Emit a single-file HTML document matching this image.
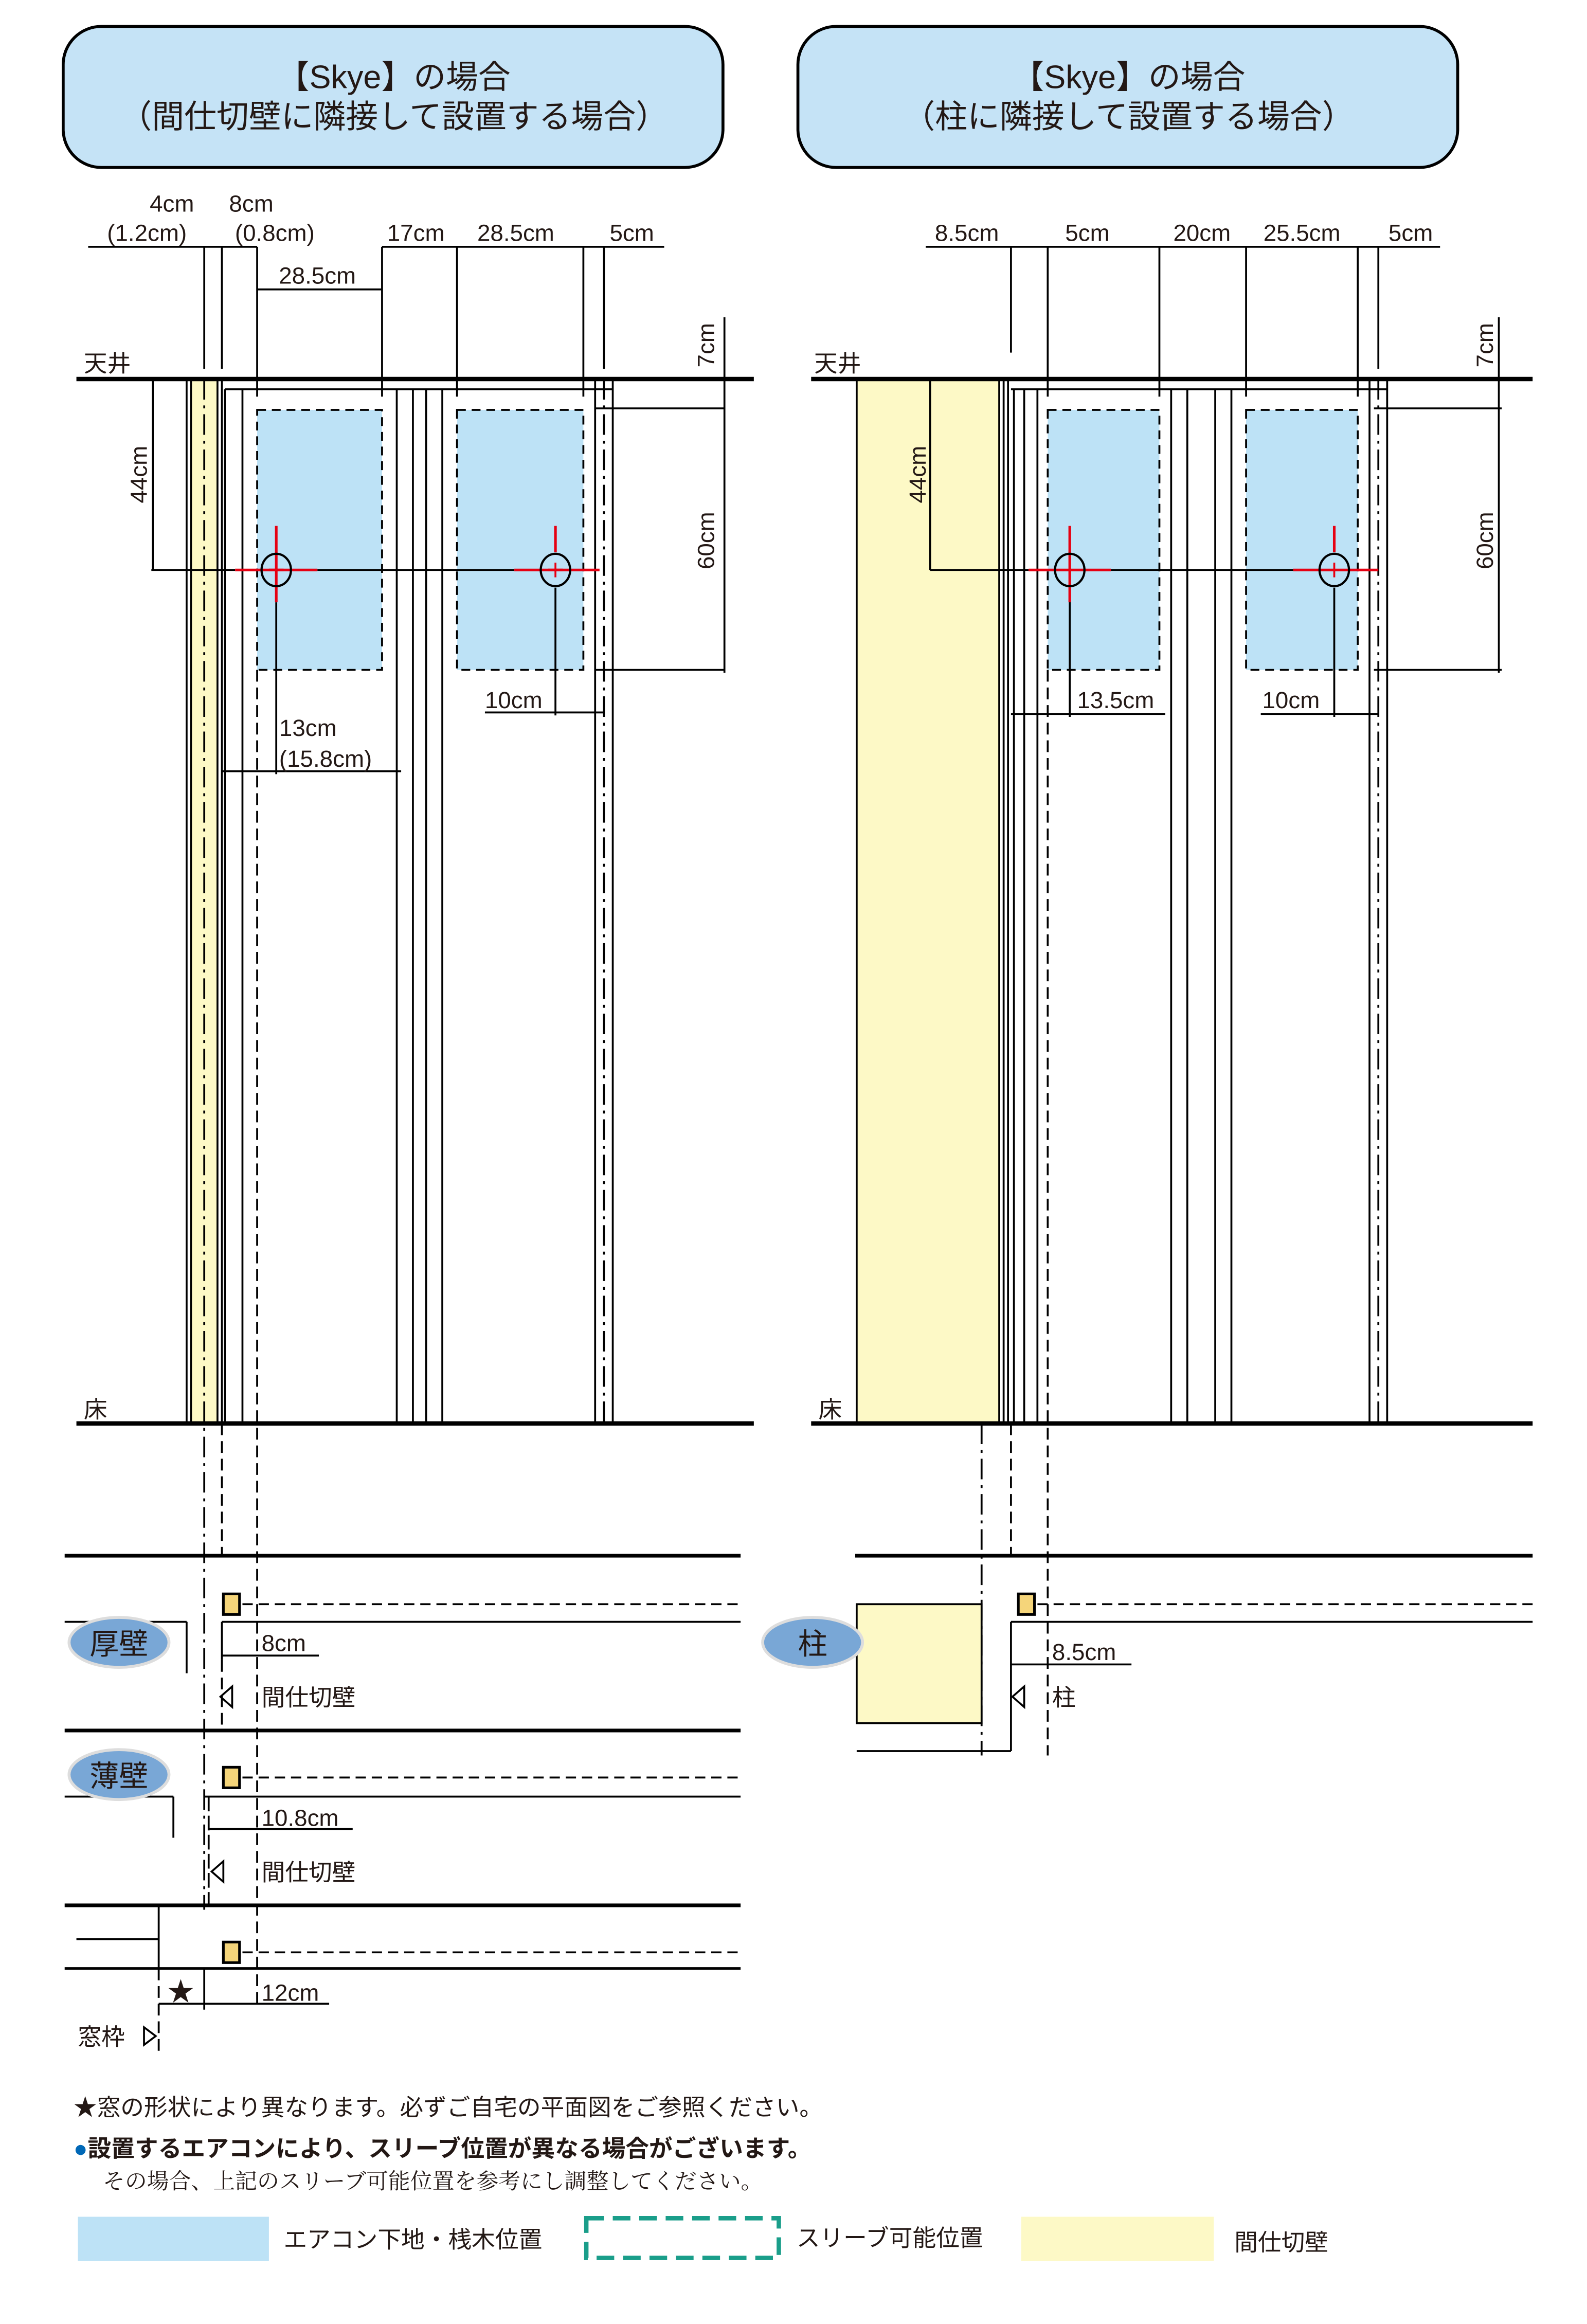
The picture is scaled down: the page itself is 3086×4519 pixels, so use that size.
<!DOCTYPE html>
<html><head><meta charset="utf-8"><style>
html,body{margin:0;padding:0;background:#fff}
svg{display:block}
text{font-family:"Liberation Sans","Noto Sans CJK JP",sans-serif;fill:#231815}
</style></head><body>
<svg width="3086" height="4519" viewBox="0 0 1080 1582" preserveAspectRatio="none" xmlns="http://www.w3.org/2000/svg">
<defs>
<marker id="d" viewBox="0 0 4 4" refX="2" refY="2" markerWidth="4" markerHeight="4" markerUnits="userSpaceOnUse"><circle cx="2" cy="2" r="2" fill="#000"/></marker>
</defs>
<!-- headers -->
<rect x="43" y="18" width="449" height="96" rx="26" fill="#c5e3f6" stroke="#000" stroke-width="2"/>
<text x="268" y="60" font-size="22" text-anchor="middle">【Skye】の場合</text>
<text x="268" y="87" font-size="22" text-anchor="middle">（間仕切壁に隣接して設置する場合）</text>
<rect x="543" y="18" width="449" height="96" rx="26" fill="#c5e3f6" stroke="#000" stroke-width="2"/>
<text x="768" y="60" font-size="22" text-anchor="middle">【Skye】の場合</text>
<text x="768" y="87" font-size="22" text-anchor="middle">（柱に隣接して設置する場合）</text>

<g stroke="#000" fill="none" stroke-width="1.3">
<!-- ===== LEFT PANEL ===== -->
<rect x="130" y="258" width="18" height="711" fill="#fdf9c6" stroke="none"/>
<rect x="175" y="279" width="85" height="177" fill="#bde2f6" stroke-dasharray="6,4"/>
<rect x="311" y="279" width="86" height="177" fill="#bde2f6" stroke-dasharray="6,4"/>
<line x1="60" y1="168" x2="175" y2="168"/><line x1="260" y1="168" x2="452" y2="168"/>
<line x1="175" y1="197" x2="260" y2="197"/>
<line x1="139" y1="168" x2="139" y2="251"/><line x1="151" y1="168" x2="151" y2="251"/>
<line x1="175" y1="168" x2="175" y2="270"/><line x1="260" y1="168" x2="260" y2="270"/>
<line x1="311" y1="168" x2="311" y2="270"/><line x1="397" y1="168" x2="397" y2="270"/>
<line x1="411" y1="168" x2="411" y2="251"/>
<line x1="127" y1="258" x2="127" y2="969"/><line x1="130" y1="258" x2="130" y2="969"/>
<line x1="148" y1="258" x2="148" y2="969"/><line x1="151" y1="258" x2="151" y2="969"/>
<line x1="153" y1="265" x2="153" y2="969"/><line x1="165" y1="265" x2="165" y2="969"/>
<line x1="153" y1="265" x2="417" y2="265"/>
<line x1="270" y1="265" x2="270" y2="969"/><line x1="281" y1="265" x2="281" y2="969"/>
<line x1="290" y1="265" x2="290" y2="969"/><line x1="301" y1="265" x2="301" y2="969"/>
<line x1="405" y1="258" x2="405" y2="969"/><line x1="417" y1="258" x2="417" y2="969"/>
<line x1="139" y1="258" x2="139" y2="1300" stroke-dasharray="14,4,2,4"/>
<line x1="411" y1="258" x2="411" y2="969" stroke-dasharray="14,4,2,4"/>
<line x1="175" y1="456" x2="175" y2="1368" stroke-dasharray="8,4"/>
<line x1="151" y1="969" x2="151" y2="1059" stroke-dasharray="8,4"/>
<!-- dims -->
<line x1="104" y1="258" x2="104" y2="388"/>
<line x1="103" y1="388" x2="160" y2="388"/><line x1="216" y1="388" x2="350" y2="388"/>
<line x1="493" y1="216" x2="493" y2="458"/>
<line x1="405" y1="278" x2="493" y2="278"/><line x1="405" y1="456" x2="493" y2="456"/>
<line x1="188" y1="410" x2="188" y2="527"/><line x1="151" y1="525" x2="273" y2="525"/>
<line x1="378" y1="400" x2="378" y2="487"/><line x1="330" y1="485" x2="411" y2="485"/>
<g stroke="#e60012" stroke-width="1.8">
<line x1="160" y1="388" x2="216" y2="388"/><line x1="188" y1="358" x2="188" y2="410"/>
<line x1="350" y1="388" x2="408" y2="388"/><line x1="378" y1="358" x2="378" y2="376"/>
<line x1="183" y1="388" x2="193" y2="388"/><line x1="373" y1="388" x2="383" y2="388"/>
</g>
<ellipse cx="188" cy="388" rx="10" ry="11" stroke-width="1.5"/>
<ellipse cx="378" cy="388" rx="10" ry="11" stroke-width="1.5"/>
<line x1="183" y1="388" x2="193" y2="388" stroke="#e60012"/><line x1="188" y1="383" x2="188" y2="393" stroke="#e60012"/>
<line x1="373" y1="388" x2="383" y2="388" stroke="#e60012"/><line x1="378" y1="383" x2="378" y2="393" stroke="#e60012"/>
<line x1="52" y1="258" x2="513" y2="258" stroke-width="3"/>
<line x1="52" y1="969" x2="513" y2="969" stroke-width="3"/>

<!-- left sections -->
<line x1="44" y1="1059" x2="504" y2="1059" stroke-width="2.5"/>
<line x1="44" y1="1178" x2="504" y2="1178" stroke-width="2.5"/>
<line x1="44" y1="1297" x2="504" y2="1297" stroke-width="2.5"/>
<line x1="44" y1="1340" x2="504" y2="1340" stroke-width="1.8"/>
<rect x="152" y="1085" width="11" height="14" fill="#f5d57a" stroke-width="1.8"/>
<line x1="165" y1="1092" x2="504" y2="1092" stroke-dasharray="7,4"/>
<line x1="151" y1="1104" x2="504" y2="1104"/>
<line x1="151" y1="1104" x2="151" y2="1130"/>
<line x1="151" y1="1130" x2="151" y2="1178" stroke-dasharray="8,4"/>
<line x1="44" y1="1104" x2="127" y2="1104"/><line x1="127" y1="1104" x2="127" y2="1139"/>
<line x1="151" y1="1127" x2="217" y2="1127"/>
<polygon points="158,1148 150,1155 158,1162"/>
<rect x="152" y="1203" width="11" height="14" fill="#f5d57a" stroke-width="1.8"/>
<line x1="165" y1="1210" x2="504" y2="1210" stroke-dasharray="7,4"/>
<line x1="139" y1="1223" x2="504" y2="1223"/>
<line x1="142" y1="1223" x2="142" y2="1297" stroke-dasharray="10,3"/>
<line x1="44" y1="1223" x2="118" y2="1223"/><line x1="118" y1="1223" x2="118" y2="1251"/>
<line x1="142" y1="1245" x2="240" y2="1245"/>
<polygon points="152,1267 144,1274 152,1281"/>
<line x1="108" y1="1297" x2="108" y2="1340"/><line x1="52" y1="1320" x2="108" y2="1320"/>
<line x1="108" y1="1340" x2="108" y2="1400" stroke-dasharray="8,4"/>
<rect x="152" y="1322" width="11" height="14" fill="#f5d57a" stroke-width="1.8"/>
<line x1="165" y1="1329" x2="504" y2="1329" stroke-dasharray="7,4"/>
<line x1="108" y1="1364" x2="224" y2="1364"/>
<line x1="139" y1="1340" x2="139" y2="1368"/>
<polygon points="98,1380 106,1386 98,1392"/>

<!-- ===== RIGHT PANEL ===== -->
<rect x="583" y="258" width="97" height="711" fill="#fdf9c6"/>
<rect x="713" y="279" width="76" height="177" fill="#bde2f6" stroke-dasharray="6,4"/>
<rect x="848" y="279" width="76" height="177" fill="#bde2f6" stroke-dasharray="6,4"/>
<line x1="630" y1="168" x2="980" y2="168"/>
<line x1="688" y1="168" x2="688" y2="240"/><line x1="713" y1="168" x2="713" y2="270"/>
<line x1="789" y1="168" x2="789" y2="270"/><line x1="848" y1="168" x2="848" y2="270"/>
<line x1="924" y1="168" x2="924" y2="270"/><line x1="938" y1="168" x2="938" y2="251"/>
<line x1="683" y1="258" x2="683" y2="969"/><line x1="686" y1="258" x2="686" y2="969"/>
<line x1="690" y1="265" x2="690" y2="969"/>
<line x1="688" y1="265" x2="944" y2="265"/>
<line x1="697" y1="265" x2="697" y2="969"/><line x1="706" y1="265" x2="706" y2="969"/>
<line x1="797" y1="265" x2="797" y2="969"/><line x1="808" y1="265" x2="808" y2="969"/>
<line x1="827" y1="265" x2="827" y2="969"/><line x1="838" y1="265" x2="838" y2="969"/>
<line x1="932" y1="258" x2="932" y2="969"/><line x1="944" y1="258" x2="944" y2="969"/>
<line x1="938" y1="258" x2="938" y2="969" stroke-dasharray="14,4,2,4"/>
<line x1="668" y1="969" x2="668" y2="1195" stroke-dasharray="14,4,2,4"/>
<line x1="688" y1="969" x2="688" y2="1059" stroke-dasharray="8,4"/>
<line x1="713" y1="456" x2="713" y2="1195" stroke-dasharray="8,4"/>
<line x1="633" y1="258" x2="633" y2="388"/>
<line x1="633" y1="388" x2="700" y2="388"/><line x1="756" y1="388" x2="880" y2="388"/>
<line x1="1020" y1="216" x2="1020" y2="458"/>
<line x1="935" y1="278" x2="1022" y2="278"/><line x1="935" y1="456" x2="1022" y2="456"/>
<line x1="728" y1="400" x2="728" y2="488"/><line x1="688" y1="486" x2="793" y2="486"/>
<line x1="908" y1="400" x2="908" y2="488"/><line x1="858" y1="486" x2="938" y2="486"/>
<g stroke="#e60012" stroke-width="1.8">
<line x1="700" y1="388" x2="756" y2="388"/><line x1="728" y1="358" x2="728" y2="410"/>
<line x1="880" y1="388" x2="938" y2="388"/><line x1="908" y1="358" x2="908" y2="376"/>
</g>
<ellipse cx="728" cy="388" rx="10" ry="11" stroke-width="1.5"/>
<ellipse cx="908" cy="388" rx="10" ry="11" stroke-width="1.5"/>
<line x1="723" y1="388" x2="733" y2="388" stroke="#e60012"/><line x1="728" y1="383" x2="728" y2="393" stroke="#e60012"/>
<line x1="903" y1="388" x2="913" y2="388" stroke="#e60012"/><line x1="908" y1="383" x2="908" y2="393" stroke="#e60012"/>
<line x1="552" y1="258" x2="1043" y2="258" stroke-width="3"/>
<line x1="552" y1="969" x2="1043" y2="969" stroke-width="3"/>
<!-- right section -->
<line x1="582" y1="1059" x2="1043" y2="1059" stroke-width="2.5"/>
<rect x="583" y="1092" width="85" height="81" fill="#fdf9c6"/>
<rect x="693" y="1085" width="11" height="14" fill="#f5d57a" stroke-width="1.8"/>
<line x1="706" y1="1092" x2="1043" y2="1092" stroke-dasharray="7,4"/>
<line x1="688" y1="1104" x2="1043" y2="1104"/>
<line x1="688" y1="1104" x2="688" y2="1192"/><line x1="583" y1="1192" x2="688" y2="1192"/>
<line x1="688" y1="1133" x2="770" y2="1133"/>
<polygon points="697,1148 689,1155 697,1162"/>
</g>

<!-- ellipses labels -->
<g stroke="#ddd" stroke-width="2" fill="#79a7d6">
<ellipse cx="81" cy="1118" rx="34" ry="17"/>
<ellipse cx="81" cy="1208" rx="34" ry="17"/>
<ellipse cx="553" cy="1118" rx="34" ry="17"/>
</g>
<text x="81" y="1126" font-size="20" text-anchor="middle">厚壁</text>
<text x="81" y="1216" font-size="20" text-anchor="middle">薄壁</text>
<text x="553" y="1126" font-size="20" text-anchor="middle">柱</text>

<!-- texts left -->
<g font-size="16">
<text x="117" y="144" text-anchor="middle">4cm</text>
<text x="100" y="164" text-anchor="middle">(1.2cm)</text>
<text x="171" y="144" text-anchor="middle">8cm</text>
<text x="187" y="164" text-anchor="middle">(0.8cm)</text>
<text x="283" y="164" text-anchor="middle">17cm</text>
<text x="351" y="164" text-anchor="middle">28.5cm</text>
<text x="430" y="164" text-anchor="middle">5cm</text>
<text x="216" y="193" text-anchor="middle">28.5cm</text>
<text x="57" y="253">天井</text>
<text x="57" y="965">床</text>
<text x="190" y="501">13cm</text>
<text x="190" y="522">(15.8cm)</text>
<text x="330" y="482">10cm</text>
<text transform="translate(100,323) rotate(-90)" text-anchor="middle">44cm</text>
<text transform="translate(486,368) rotate(-90)" text-anchor="middle">60cm</text>
<text transform="translate(486,235) rotate(-90)" text-anchor="middle">7cm</text>
<text x="178" y="1124">8cm</text>
<text x="178" y="1161">間仕切壁</text>
<text x="178" y="1243">10.8cm</text>
<text x="178" y="1280">間仕切壁</text>
<text x="114" y="1362" font-size="18">★</text>
<text x="178" y="1362">12cm</text>
<text x="53" y="1392">窓枠</text>
<!-- right -->
<text x="658" y="164" text-anchor="middle">8.5cm</text>
<text x="740" y="164" text-anchor="middle">5cm</text>
<text x="818" y="164" text-anchor="middle">20cm</text>
<text x="886" y="164" text-anchor="middle">25.5cm</text>
<text x="960" y="164" text-anchor="middle">5cm</text>
<text x="554" y="253">天井</text>
<text x="557" y="965">床</text>
<text x="733" y="482">13.5cm</text>
<text x="859" y="482">10cm</text>
<text transform="translate(630,323) rotate(-90)" text-anchor="middle">44cm</text>
<text transform="translate(1016,368) rotate(-90)" text-anchor="middle">60cm</text>
<text transform="translate(1016,235) rotate(-90)" text-anchor="middle">7cm</text>
<text x="716" y="1130">8.5cm</text>
<text x="716" y="1161">柱</text>
</g>

<!-- notes -->
<text x="50" y="1440" font-size="16">★窓の形状により異なります。必ずご自宅の平面図をご参照ください。</text>
<text x="50" y="1468" font-size="16" font-weight="bold"><tspan fill="#0068b7">●</tspan>設置するエアコンにより、スリーブ位置が異なる場合がございます。</text>
<text x="70" y="1490" font-size="15" style="font-family:'Liberation Serif','Noto Serif CJK SC',serif">その場合、上記のスリーブ可能位置を参考にし調整してください。</text>
<rect x="53" y="1509" width="130" height="30" fill="#bde2f6"/>
<text x="193" y="1530" font-size="16">エアコン下地・桟木位置</text>
<rect x="399" y="1510" width="131" height="27" fill="none" stroke="#1a9e8a" stroke-width="3" stroke-dasharray="12,6"/>
<text x="542" y="1529" font-size="16">スリーブ可能位置</text>
<rect x="695" y="1509" width="131" height="30" fill="#fdf9c6"/>
<text x="840" y="1532" font-size="16">間仕切壁</text>
</svg>
</body></html>
